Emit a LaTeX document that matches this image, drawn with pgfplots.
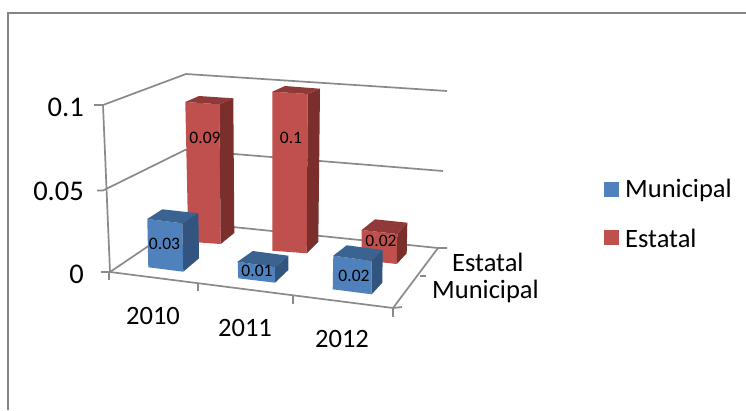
\documentclass[border=0pt]{standalone}
\usepackage{fontspec}
\setmainfont{Carlito}
\usepackage{pgfplots}
\pgfplotsset{compat=1.18}

\definecolor{axisgray}{HTML}{8A8A8A}
\definecolor{framegray}{HTML}{848484}
\definecolor{redfront}{HTML}{C0504D}
\definecolor{redtop}{HTML}{8F3A38}
\definecolor{redside}{HTML}{7A2F2D}
\definecolor{bluefront}{HTML}{4F81BD}
\definecolor{bluetop}{HTML}{3B6391}
\definecolor{blueside}{HTML}{325580}

% front, top and side face of one 3D bar
\newcommand{\barfaces}[9]{%
  \addplot[fill=#1front, draw=none, forget plot] coordinates {#2 #3 #4 #5} --cycle;
  \addplot[fill=#1top, draw=none, forget plot] coordinates {#2 #3 #7 #6} --cycle;
  \addplot[fill=#1side, draw=none, forget plot] coordinates {#3 #7 #8 #4} --cycle;
}

\begin{document}
\begin{tikzpicture}
\useasboundingbox (0,0) rectangle (746pt,410pt);
\begin{axis}[
    anchor=south west, at={(0,0)},
    scale only axis, width=746pt, height=410pt,
    xmin=0, xmax=746, ymin=0, ymax=410,
    y dir=reverse,
    axis lines=none,
    clip=false,
    grid line/.style={draw=axisgray, line width=1.7pt, forget plot},
]
% outer frame
\addplot[draw=framegray, line width=2pt, forget plot] coordinates {(8,410) (8,12.5) (746,12.5)};

% walls and floor
\addplot[grid line] coordinates {(94,105) (103,105) (186,74) (447,91)};
\addplot[grid line] coordinates {(97,190.5) (103,190.5) (185,150) (443,171)};
\addplot[grid line] coordinates {(101,272) (110,272) (184,222) (438,248) (447,248)};
\addplot[grid line] coordinates {(103,105) (110,272) (393,308) (438,248)};
\addplot[grid line] coordinates {(109,272) (109,280)};
\addplot[grid line] coordinates {(198,284) (198,291)};
\addplot[grid line] coordinates {(293,296) (293,304)};
\addplot[grid line] coordinates {(393,308) (393,317)};
\addplot[grid line] coordinates {(393,308) (402,307)};
\addplot[grid line] coordinates {(420,276) (426,276)};

% Estatal bars
\barfaces{red}{(185.3,102)}{(219.3,104.3)}{(220.7,244)}{(188.3,241.7)}{(199,96)}{(233.3,98.3)}{(234.3,233)}{}
\barfaces{red}{(272.3,91.7)}{(307.7,94)}{(306.7,253.3)}{(272.3,250.7)}{(285,86)}{(320,88.7)}{(318.3,241.7)}{}
\barfaces{red}{(361.7,230)}{(397.3,234)}{(396.7,264)}{(361.7,260)}{(375,219.3)}{(407.3,222.7)}{(406.7,253.3)}{}

% Municipal bars
\barfaces{blue}{(147.3,219)}{(182.3,223.3)}{(183.3,271.7)}{(148.3,267.3)}{(162.3,209.3)}{(198.3,213.3)}{(199,258.3)}{}
\barfaces{blue}{(237.7,261.7)}{(275,267.3)}{(275,282.7)}{(238.3,278.3)}{(252.7,251)}{(288.3,255.7)}{(288.3,270)}{}
\barfaces{blue}{(333.3,255.7)}{(371.7,261)}{(371.7,294.3)}{(332.7,289.3)}{(346.7,245.3)}{(382.7,250)}{(382.3,282.7)}{}

% legend keys
\addplot[fill=bluefront, draw=none, forget plot] coordinates {(604,182) (619,182) (619,197) (604,197)} --cycle;
\addplot[fill=redfront, draw=none, forget plot] coordinates {(604,230) (619,230) (619,245) (604,245)} --cycle;

% data labels
\begin{scope}[every node/.style={font=\fontsize{17.5}{17.5}\selectfont, inner sep=0pt, text=black}]
\node at (axis cs:205,138) {0.09};
\node at (axis cs:291,138) {0.1};
\node at (axis cs:164.5,244) {0.03};
\node at (axis cs:257,271) {0.01};
\node at (axis cs:381,241) {0.02};
\node at (axis cs:354,276) {0.02};
\end{scope}

% axis and legend text
\begin{scope}[every node/.style={font=\fontsize{26.5}{26.5}\selectfont, inner sep=0pt, text=black}]
\node[anchor=east, font=\fontsize{28.5}{28.5}\selectfont] at (axis cs:84,107) {0.1};
\node[anchor=east, font=\fontsize{28.5}{28.5}\selectfont] at (axis cs:84,191) {0.05};
\node[anchor=east, font=\fontsize{28.5}{28.5}\selectfont] at (axis cs:84,274) {0};
\node at (axis cs:153,316) {2010};
\node at (axis cs:245,328) {2011};
\node at (axis cs:342,339) {2012};
\node[anchor=west] at (axis cs:452,262) {Estatal};
\node[anchor=west] at (axis cs:432,291) {Municipal};
\node[anchor=west] at (axis cs:625,190) {Municipal};
\node[anchor=west] at (axis cs:625,238) {Estatal};
\end{scope}
\end{axis}
\end{tikzpicture}
\end{document}
